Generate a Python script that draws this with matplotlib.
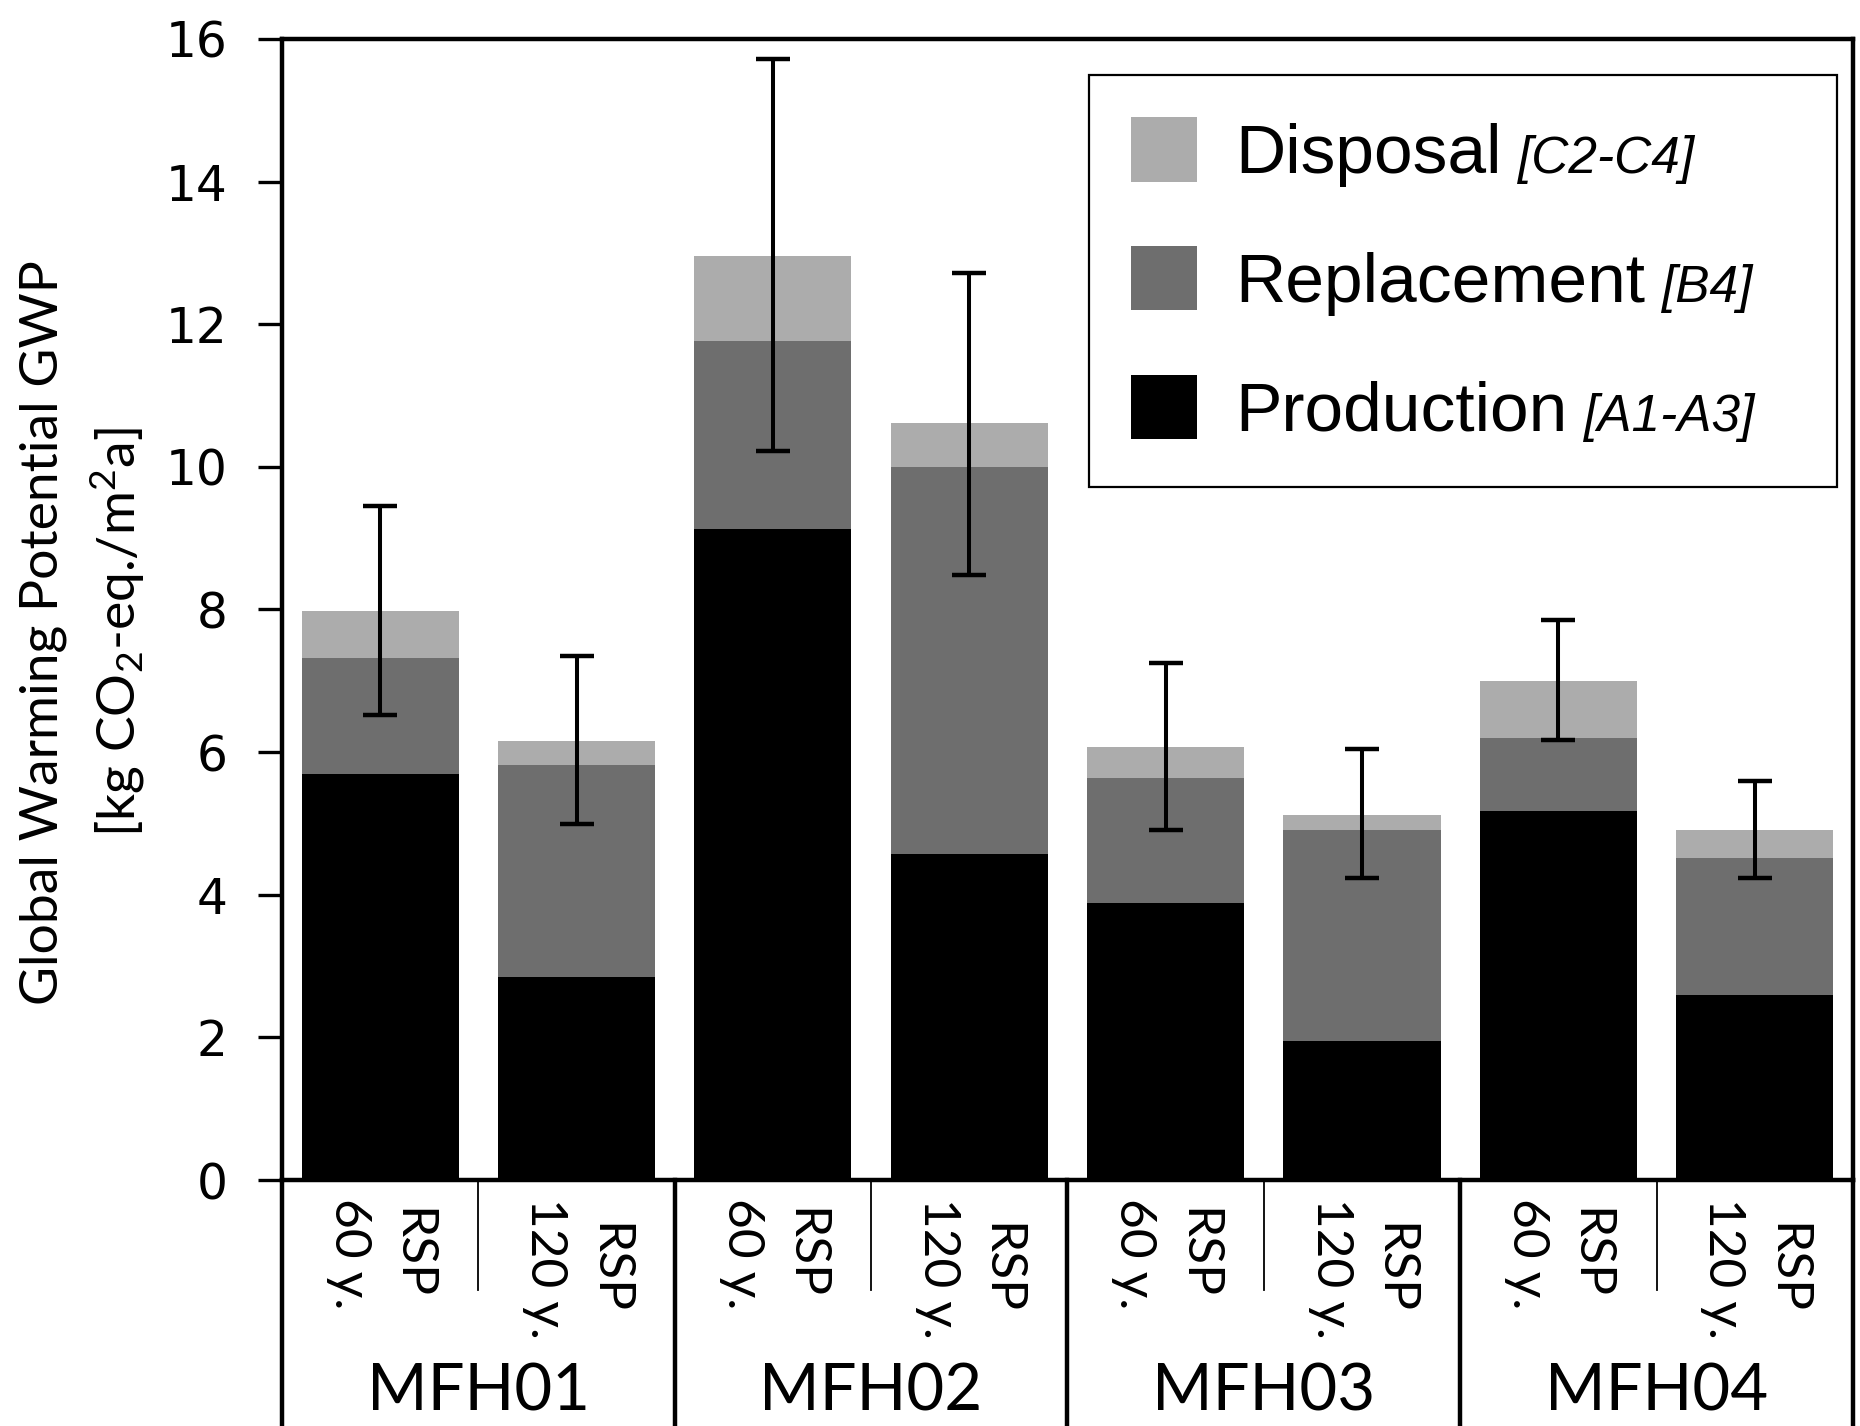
import matplotlib
matplotlib.use("Agg")
import matplotlib.pyplot as plt
import matplotlib.transforms as mtransforms
import numpy as np

# --- data ---
buildings = ["MFH01", "MFH02", "MFH03", "MFH04"]
periods = ["60 y.", "120 y."]
scenario = "RSP"

production = [5.70, 2.84, 9.13, 4.57, 3.89, 1.95, 5.17, 2.59]
replacement = [1.62, 2.98, 2.63, 5.43, 1.75, 2.96, 1.03, 1.92]
disposal = [0.66, 0.33, 1.20, 0.61, 0.43, 0.21, 0.80, 0.40]
err_upper = [9.45, 7.35, 15.72, 12.72, 7.25, 6.04, 7.85, 5.59]
err_lower = [6.52, 4.99, 10.22, 8.48, 4.91, 4.24, 6.17, 4.24]

legend_names = ["Disposal", "Replacement", "Production"]
legend_modules = ["[C2-C4]", "[B4]", "[A1-A3]"]

yticks = [0, 2, 4, 6, 8, 10, 12, 14, 16]

plt.rcParams['mathtext.fontset'] = 'custom'
plt.rcParams['mathtext.rm'] = 'Lato'
plt.rcParams['mathtext.it'] = 'Lato:italic'

col_disp = '#acacac'
col_repl = '#6e6e6e'
col_prod = '#000000'

prod = np.array(production)
repl = np.array(replacement)
disp = np.array(disposal)
total = prod + repl + disp
x = np.arange(len(prod))

fig = plt.figure(figsize=(18.6, 14.26), dpi=100)
ax = fig.add_axes([0.1516, 0.1725, 0.8446, 0.8002])

ax.bar(x, prod, width=0.8, color=col_prod, label=legend_names[2])
ax.bar(x, repl, width=0.8, bottom=prod, color=col_repl, label=legend_names[1])
ax.bar(x, disp, width=0.8, bottom=prod + repl, color=col_disp, label=legend_names[0])

yerr = [total - np.array(err_lower), np.array(err_upper) - total]
ax.errorbar(x, total, yerr=yerr, fmt='none', ecolor='black', elinewidth=2.9,
            capsize=12, capthick=3.2, zorder=4)

ax.set_xlim(-0.5, len(prod) - 0.5)
ax.set_ylim(0, 16)
ax.set_yticks(yticks)
ax.set_xticks([])
ax.tick_params(axis='y', direction='out', length=17, width=2.4, pad=22, labelsize=35)
for s in ax.spines.values():
    s.set_linewidth(3.2)

ax.set_ylabel("Global Warming Potential GWP\n[kg CO$_2$-eq./m$^2$a]",
              fontsize=38.5, family=['Lato', 'DejaVu Sans'], linespacing=1.45)
ax.yaxis.set_label_coords(-0.086, 0.48)

# legend with italic module codes next to the names
handles, labels = ax.get_legend_handles_labels()
leg = ax.legend(handles[::-1], labels[::-1], loc='upper left',
                bbox_to_anchor=(0.514, 0.613, 0.476, 0.355), mode='expand',
                prop={'family': 'Liberation Sans', 'size': 50},
                handlelength=0.95, handleheight=1.05, handletextpad=0.55,
                labelspacing=0.85, borderpad=0.6, borderaxespad=0,
                fancybox=False, framealpha=1, edgecolor='black')
leg.get_frame().set_linewidth(1.6)
fig.canvas.draw()
for txt, mod in zip(leg.get_texts(), legend_modules):
    ax.annotate(mod, xy=(1, 0), xycoords=txt, xytext=(12, 10),
                textcoords='offset points', ha='left', va='baseline',
                fontsize=37, fontstyle='italic', family='Liberation Sans',
                zorder=10)

# category axis below the plot
trans = mtransforms.blended_transform_factory(ax.transData, ax.transAxes)
font_cat = ['Lato', 'DejaVu Sans']
n_per = len(periods)
for i, b in enumerate(buildings):
    for j, p in enumerate(periods):
        k = i * n_per + j
        ax.text(k, -0.016, scenario + "\n" + p, transform=trans, rotation=270,
                ha='center', va='top', multialignment='center',
                fontsize=37, family=font_cat, linespacing=1.45)
    ax.text(i * n_per + (n_per - 1) / 2, -0.186, b, transform=trans,
            ha='center', va='center', fontsize=47, family=font_cat)
    # thin divider between the two periods
    ax.plot([i * n_per + 0.5] * 2, [0, -0.096], transform=trans, color='black',
            lw=1.3, clip_on=False)

# thick dividers between buildings (and outer edges)
for k in range(len(buildings) + 1):
    xd = k * n_per - 0.5
    ax.plot([xd, xd], [0, -0.22], transform=trans, color='black', lw=3.2,
            clip_on=False)

fig.savefig('out.png', dpi=100)
